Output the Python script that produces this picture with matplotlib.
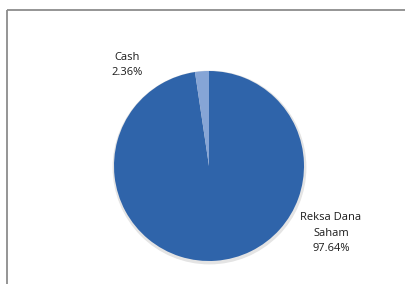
import matplotlib
matplotlib.use("Agg")
import matplotlib.pyplot as plt

labels = ["Reksa Dana\nSaham", "Cash"]
values = [97.64, 2.36]
colors = ["#2F64AA", "#86A5D6"]

W, H = 406, 284
fig = plt.figure(figsize=(W / 100, H / 100), dpi=100)
ax = fig.add_axes([0, 0, 1, 1])

cx, cy, r = 209, H - 166, 95
# faint shadow under the pie
ax.add_patch(plt.Circle((cx + 0.5, cy - 1.5), r + 1.2, color="#e4e4e4", zorder=1))
ax.pie(values, colors=colors, startangle=90, counterclock=False,
       center=(cx, cy), radius=r, wedgeprops=dict(linewidth=0, zorder=2))
ax.set_xlim(0, W)
ax.set_ylim(0, H)
ax.set_aspect("equal")
ax.axis("off")

font = dict(family=["Open Sans", "DejaVu Sans"], fontsize=8, color="#1a1a1a",
            ha="center", va="center", linespacing=1.6)
ax.text(331, H - 233, f"{labels[0]}\n{values[0]:.2f}%", **font)
ax.text(127, H - 65, f"{labels[1]}\n{values[1]:.2f}%", **font)

# chart border (top and left edges visible)
ax.plot([7, W], [H - 10, H - 10], color="#8c8c8c", lw=1.3, solid_capstyle="butt", clip_on=False)
ax.plot([7, 7], [H - 10, 0], color="#8c8c8c", lw=1.3, solid_capstyle="butt", clip_on=False)

fig.savefig("out.png", dpi=100)
